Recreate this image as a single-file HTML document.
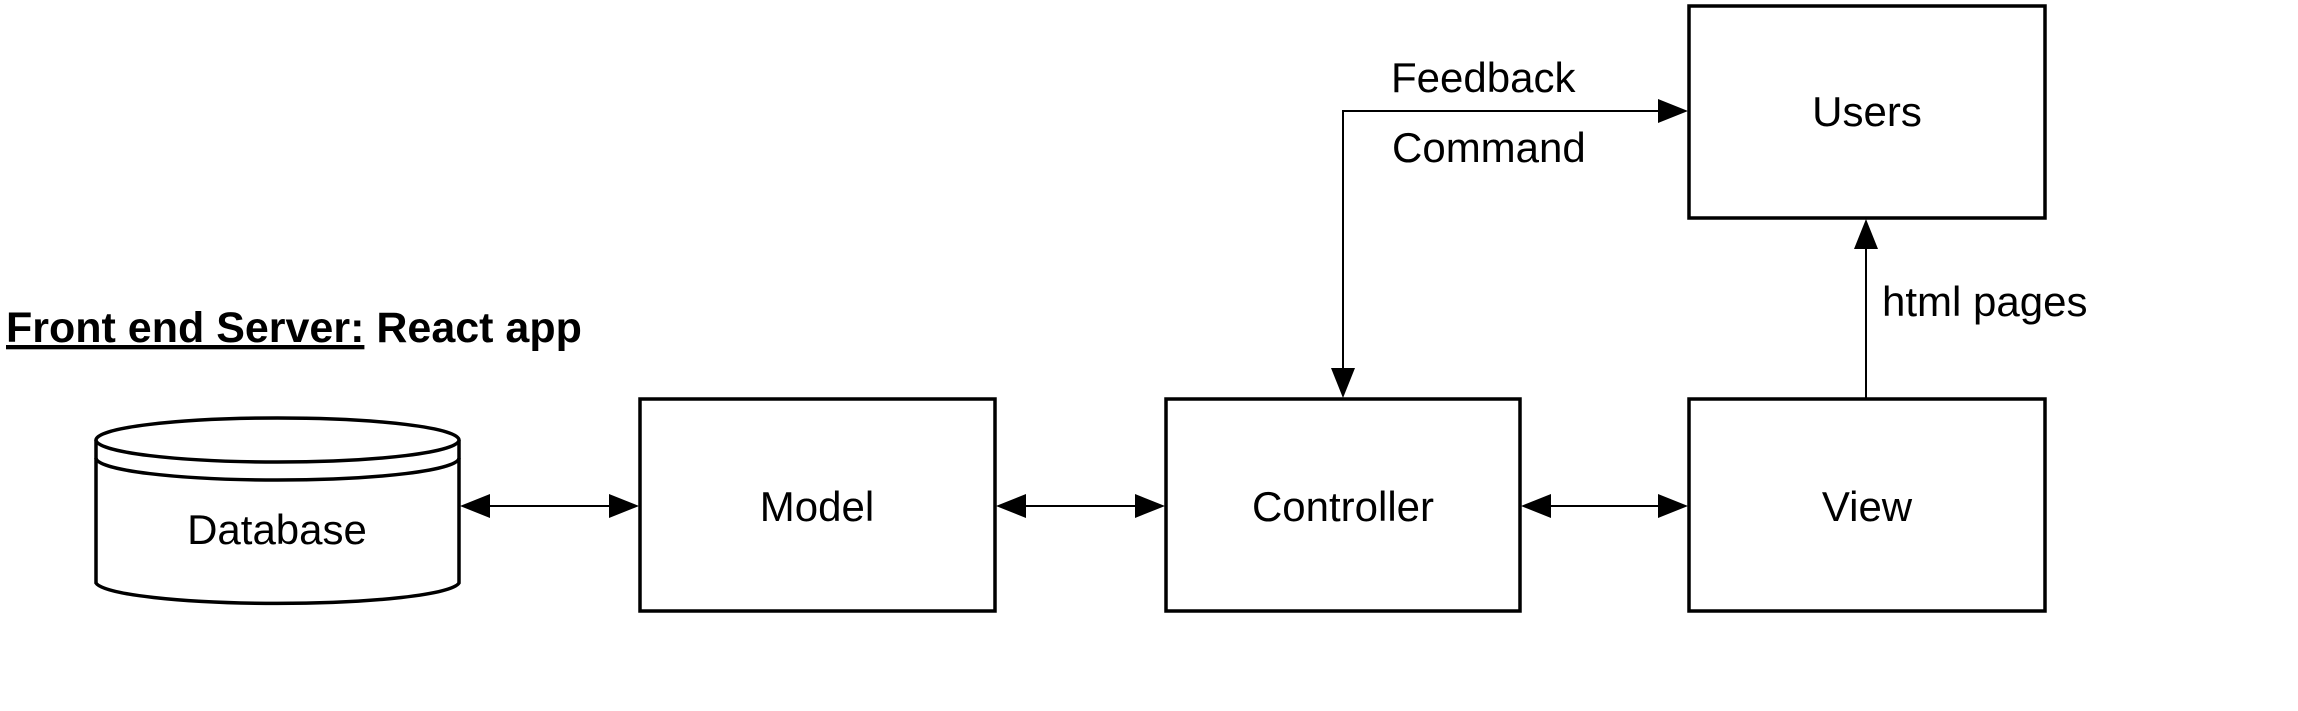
<!DOCTYPE html>
<html><head><meta charset="utf-8"><style>
html,body{margin:0;padding:0;background:#fff;}
svg{display:block;}
text{font-family:"Liberation Sans",Arial,sans-serif;fill:#000;}
</style></head><body>
<svg width="2298" height="711" viewBox="0 0 2298 711" xmlns="http://www.w3.org/2000/svg">
<g fill="none" stroke="#000" stroke-width="3.5">
<rect x="640" y="399" width="355" height="212"/>
<rect x="1166" y="399" width="354" height="212"/>
<rect x="1689" y="399" width="356" height="212"/>
<rect x="1689" y="6" width="356" height="212"/>
<path d="M96 440 L96 583 A182 22 0 0 0 459 583 L459 440"/>
<ellipse cx="277.5" cy="440" rx="181.5" ry="22" fill="#fff"/>
<path d="M96 458 A181.5 22 0 0 0 459 458"/>
</g>
<g stroke="#000" stroke-width="2" fill="none">
<line x1="484" y1="506" x2="615" y2="506"/>
<line x1="1020" y1="506" x2="1141" y2="506"/>
<line x1="1545" y1="506" x2="1664" y2="506"/>
<polyline points="1343,374 1343,111 1664,111"/>
<line x1="1866" y1="399" x2="1866" y2="243"/>
</g>
<g fill="#000">
<polygon points="460,506 490,494 490,518"/>
<polygon points="639,506 609,494 609,518"/>
<polygon points="996,506 1026,494 1026,518"/>
<polygon points="1165,506 1135,494 1135,518"/>
<polygon points="1521,506 1551,494 1551,518"/>
<polygon points="1688,506 1658,494 1658,518"/>
<polygon points="1688,111 1658,99 1658,123"/>
<polygon points="1343,398 1331,368 1355,368"/>
<polygon points="1866,219 1854,249 1878,249"/>
</g>
<text x="6" y="342" font-size="43" font-weight="bold"><tspan text-decoration="underline">Front end Server:</tspan> React app</text>
<g font-size="42" text-anchor="middle">
<text x="277" y="544">Database</text>
<text x="817" y="521">Model</text>
<text x="1343" y="521">Controller</text>
<text x="1867" y="521">View</text>
<text x="1867" y="126">Users</text>
</g>
<g font-size="42">
<text x="1391" y="92">Feedback</text>
<text x="1392" y="162">Command</text>
<text x="1882" y="316">html pages</text>
</g>
</svg>
</body></html>
